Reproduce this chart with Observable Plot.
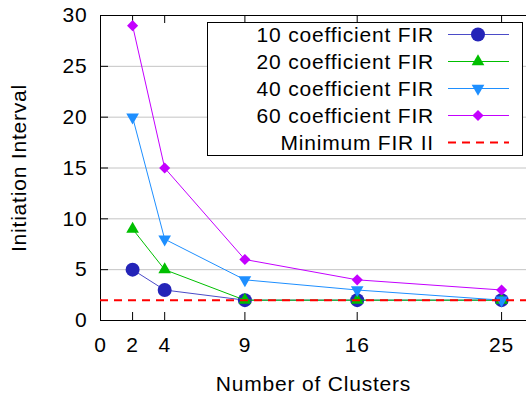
<!DOCTYPE html>
<html><head><meta charset="utf-8">
<script src="https://cdn.jsdelivr.net/npm/d3@7"></script>
<script src="https://cdn.jsdelivr.net/npm/@observablehq/plot@0.6"></script>
<style>
body{margin:0;background:#fff}
#chart{position:relative;width:526px;height:398px;font-family:"Liberation Sans",Arial,sans-serif}
#legend{position:absolute;left:207px;top:22px}
</style></head><body><div id="chart"></div>
<script>
// ---- data ----
const clusters = [2, 4, 9, 16, 25];
const fir10 = [5, 3, 2, 2, 2];
const fir20 = [9, 5, 2, 2, 2];
const fir40 = [20, 8, 4, 3, 2];
const fir60 = [29, 15, 6, 4, 3];
const minimumII = 2;
const seriesNames = ["10 coefficient FIR", "20 coefficient FIR", "40 coefficient FIR", "60 coefficient FIR"];
const minimumName = "Minimum FIR II";
const xTicks = [0, 2, 4, 9, 16, 25];
const yTicks = [0, 5, 10, 15, 20, 25, 30];
const gridYs = [5, 10, 15, 20, 25];
const xLabel = "Number of Clusters";
const yLabel = "Initiation Interval";

// ---- styles ----
const colors = ["#2424b8", "#00bf00", "#1e8fff", "#c400ff"];
const lineColors = ["#4b4bc8", "#00bf00", "#1e8fff", "#c400ff"];
const symbols = ["circle", "triangle", "triangle", "diamond2"];
const rotations = [0, 0, 180, 0];
const radii = [7, 4.7, 4.7, 5];
const minColor = "#ff0000";

const W = 526, H = 398;
const mL = 100, mR = 0, mT = 15, mB = 78;
const plotW = W - mL - mR, plotH = H - mT - mB;
const font = "21px";

const values = [fir10, fir20, fir40, fir60];
const rows = values.flatMap((vals, i) => clusters.map((c, j) => ({series: seriesNames[i], x: c, y: vals[j]})));

const seriesMarks = seriesNames.flatMap((name, i) => {
  const d = rows.filter(r => r.series === name);
  return [
    Plot.line(d, {x: "x", y: "y", stroke: lineColors[i], strokeWidth: 1}),
    Plot.dot(d, {x: "x", y: "y", fill: colors[i], stroke: "none", symbol: symbols[i], r: radii[i], rotate: rotations[i]})
  ];
});

const chart = Plot.plot({
  width: W, height: H,
  marginLeft: mL, marginRight: mR, marginTop: mT, marginBottom: mB,
  style: {fontFamily: '"Liberation Sans", Arial, sans-serif', fontSize: font, letterSpacing: "0.8px", color: "#000", background: "#fff"},
  x: {domain: [0, plotW / (501 - 132) * 23]},
  y: {domain: [0, 30]},
  marks: [
    Plot.ruleY(gridYs, {stroke: "#c4c4c4", strokeWidth: 1}),
    Plot.ruleX(xTicks, {stroke: "#000", insetTop: plotH - 8}),
    Plot.ruleX(xTicks, {stroke: "#000", insetBottom: plotH - 8}),
    Plot.ruleY(yTicks, {stroke: "#000", insetRight: plotW - 8}),
    Plot.ruleX([0], {stroke: "#000"}),
    Plot.ruleY([0], {stroke: "#000"}),
    Plot.ruleY([30], {stroke: "#000"}),
    Plot.axisY({ticks: yTicks, tickSize: 0, tickPadding: 13, fontSize: font, label: yLabel, labelAnchor: "center", labelOffset: 89, labelArrow: "none"}),
    Plot.axisX({ticks: xTicks, tickSize: 0, tickPadding: 17, fontSize: font, label: xLabel, labelAnchor: "center", labelOffset: 70, labelArrow: "none"}),
    ...seriesMarks,
    Plot.ruleY([minimumII], {stroke: minColor, strokeWidth: 2, strokeDasharray: "8,6"})
  ]
});
// strip any label arrows (older Plot versions ignore labelArrow)
d3.select(chart).selectAll("text").each(function() {
  const t = this.textContent;
  const s = t.replace(/\s*[↑↓→←]\s*/g, "");
  if (s !== t && this.childElementCount === 0) this.textContent = s;
});
document.getElementById("chart").appendChild(chart);

// ---- legend ----
const LW = 315, LH = 133;
const lg = d3.select("#chart").append("svg").attr("id", "legend")
  .attr("width", LW + 1).attr("height", LH + 1)
  .style("font-family", '"Liberation Sans", Arial, sans-serif').style("font-size", font).style("letter-spacing", "0.8px");
lg.append("rect").attr("x", 0.5).attr("y", 0.5).attr("width", LW).attr("height", LH).attr("fill", "#fff").attr("stroke", "#000");
const entries = seriesNames.map((n, i) => ({name: n, color: colors[i], lcolor: lineColors[i], symbol: symbols[i], rot: rotations[i], r: radii[i], dash: null, sw: 1}))
  .concat([{name: minimumName, color: minColor, lcolor: minColor, symbol: null, dash: "8,6", sw: 2}]);
const symMap = {circle: d3.symbolCircle, triangle: d3.symbolTriangle, diamond2: d3.symbolDiamond2};
entries.forEach((e, i) => {
  const cy = 12.5 + i * 27;
  const g = lg.append("g");
  g.append("text").attr("x", 227).attr("y", cy).attr("dy", "0.35em").attr("text-anchor", "end").attr("fill", "#000").text(e.name);
  g.append("line").attr("x1", 241).attr("x2", 302).attr("y1", cy).attr("y2", cy).attr("stroke", e.lcolor).attr("stroke-width", e.sw).attr("stroke-dasharray", e.dash);
  if (e.symbol) {
    g.append("path").attr("d", d3.symbol(symMap[e.symbol], Math.PI * e.r * e.r)()).attr("fill", e.color)
      .attr("transform", `translate(271,${cy}) rotate(${e.rot})`);
  }
});
</script>
</body></html>
